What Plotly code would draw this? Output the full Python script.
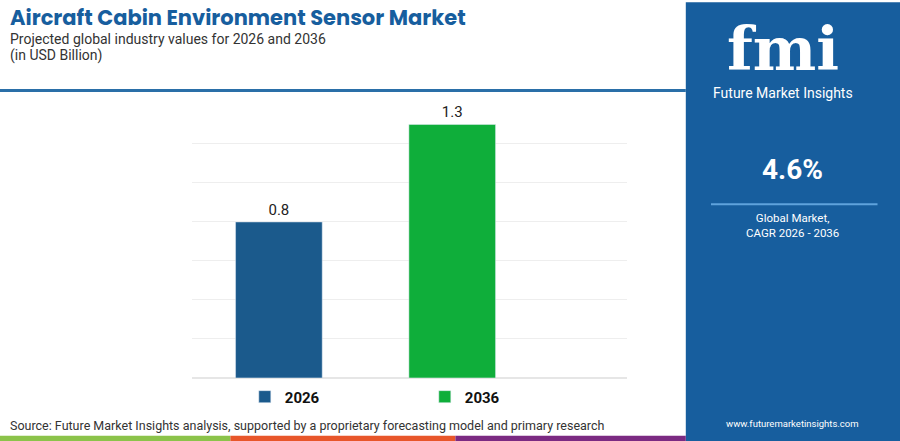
import plotly.graph_objects as go

years = ["2026", "2036"]
values = [0.8, 1.3]
bar_colors = ["#1b5a8c", "#0fae3a"]
cagr = "4.6%"

fig = go.Figure()
for yr, val, col in zip(years, values, bar_colors):
    fig.add_trace(go.Bar(
        x=[yr], y=[val], name="<b>" + yr + "</b>", marker_color=col, width=0.5,
        text=[f"{val:.1f}"], textposition="outside",
        textfont=dict(family="Roboto", size=15, color="#222"),
        cliponaxis=False,
    ))

fig.update_layout(
    width=900, height=441,
    margin=dict(l=0, r=0, t=0, b=0),
    paper_bgcolor="white", plot_bgcolor="white",
    barmode="overlay",
    showlegend=True,
    legend=dict(orientation="h", x=0.272, xanchor="left", y=0.1, yanchor="middle",
                bgcolor="rgba(0,0,0,0)",
                font=dict(family="Roboto", size=15, color="#111"),
                traceorder="normal", entrywidth=135, itemwidth=30),
    xaxis=dict(domain=[0.213, 0.697], range=[-0.503, 2.01], showticklabels=False, showline=False),
    yaxis=dict(domain=[0.143, 0.762], range=[0, 1.4], dtick=0.2, showticklabels=False,
               gridcolor="#eeeeee", zeroline=True, zerolinecolor="#e6e6e6"),
    font=dict(family="Roboto"),
)

shapes = [
    dict(type="rect", xref="paper", yref="paper", x0=0.762, x1=1, y0=0, y1=0.995,
         fillcolor="#175e9e", line_width=0, layer="below"),
    dict(type="line", xref="paper", yref="paper", x0=0, x1=0.762, y0=0.795, y1=0.795,
         line=dict(color="#2a6fa8", width=3)),
    dict(type="line", xref="paper", yref="paper", x0=0.79, x1=0.975, y0=0.537, y1=0.537,
         line=dict(color="#5fa3dc", width=2)),
    dict(type="rect", xref="paper", yref="paper", x0=0, x1=0.256, y0=0, y1=0.012,
         fillcolor="#8bc34a", line_width=0),
    dict(type="rect", xref="paper", yref="paper", x0=0.256, x1=0.506, y0=0, y1=0.012,
         fillcolor="#e8562a", line_width=0),
    dict(type="rect", xref="paper", yref="paper", x0=0.506, x1=0.762, y0=0, y1=0.012,
         fillcolor="#7b2a82", line_width=0),
]
fig.update_layout(shapes=shapes)

ann = [
    dict(text="<b>Aircraft Cabin Environment Sensor Market</b>", x=0.009, y=0.96,
         font=dict(size=21, color="#175e9e", family="Poppins, Roboto")),
    dict(text="Projected global industry values for 2026 and 2036", x=0.009, y=0.912,
         font=dict(size=14, color="#333")),
    dict(text="(in USD Billion)", x=0.009, y=0.875, font=dict(size=14, color="#333")),
    dict(text="Source: Future Market Insights analysis, supported by a proprietary forecasting model and primary research",
         x=0.009, y=0.036, font=dict(size=12.5, color="#333")),
    dict(text="<b>fmi</b>", x=0.87, y=0.89, xanchor="center",
         font=dict(size=60, color="white", family="DejaVu Serif")),
    dict(text="Future Market Insights", x=0.87, y=0.79, xanchor="center",
         font=dict(size=14, color="white")),
    dict(text="<b>" + cagr + "</b>", x=0.881, y=0.615, xanchor="center",
         font=dict(size=28, color="white")),
    dict(text="Global Market,<br>CAGR 2026 - 2036", x=0.881, y=0.488, xanchor="center",
         font=dict(size=11.5, color="white")),
    dict(text="www.futuremarketinsights.com", x=0.881, y=0.04, xanchor="center",
         font=dict(size=9.5, color="white")),
]
for a in ann:
    a.setdefault("xanchor", "left")
    fig.add_annotation(xref="paper", yref="paper", yanchor="middle", showarrow=False,
                       align="center" if a["xanchor"] == "center" else "left", **a)

fig.write_html("out.html", config={"displayModeBar": False},
               post_script="document.body.style.margin='0';")
